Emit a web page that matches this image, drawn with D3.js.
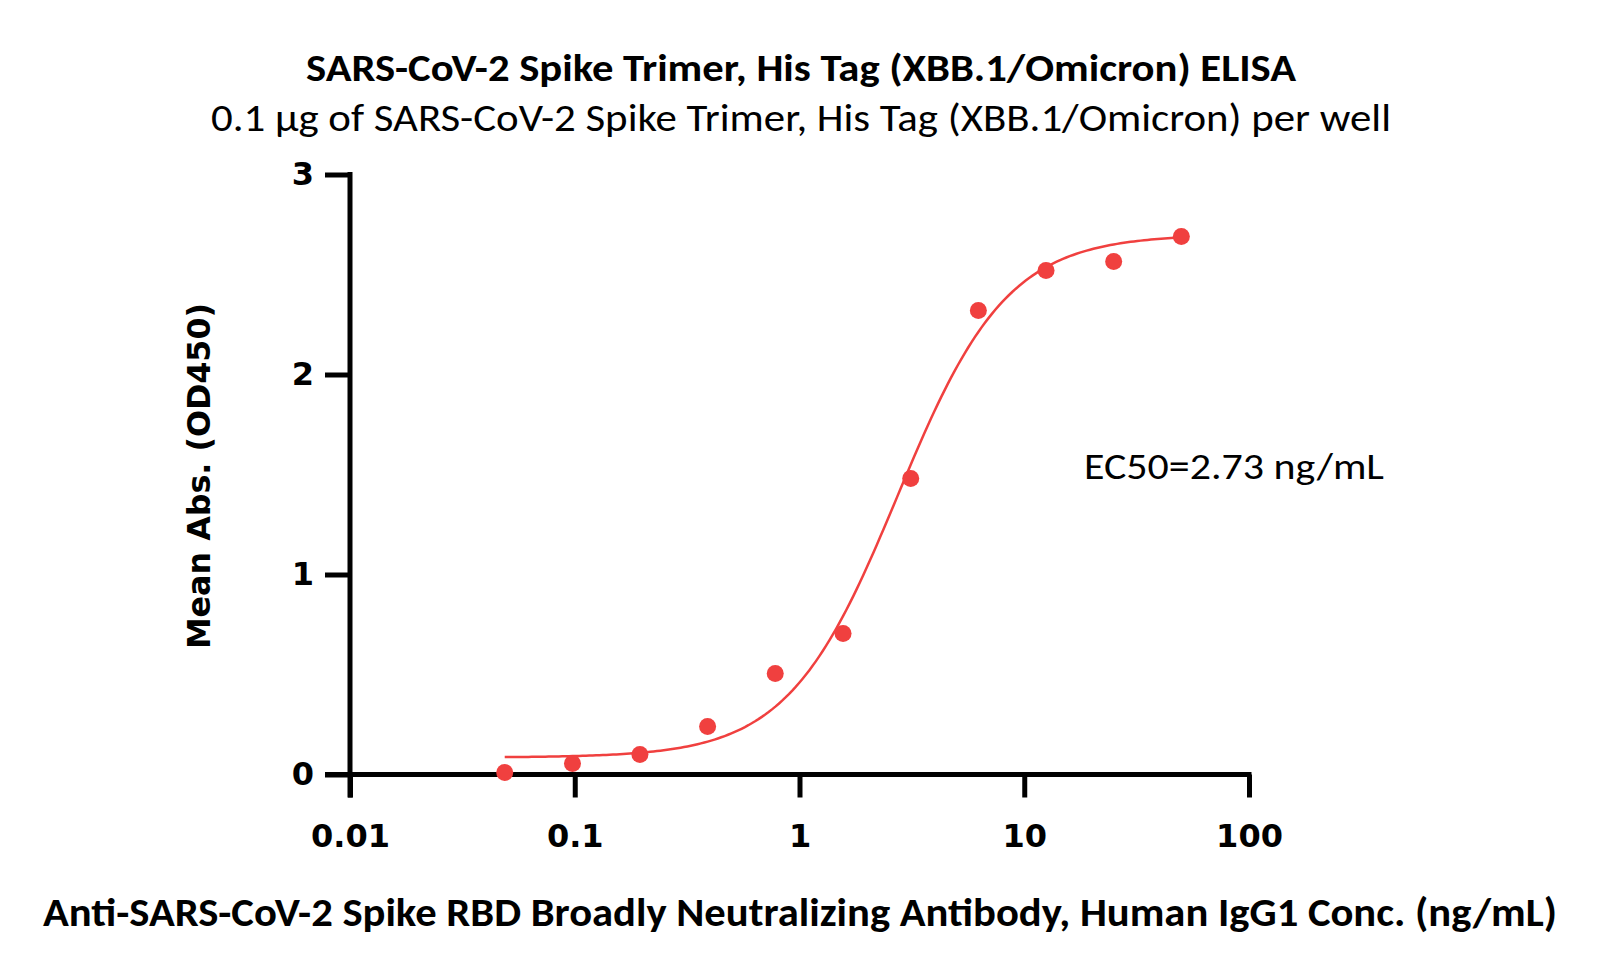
<!DOCTYPE html>
<html>
<head>
<meta charset="utf-8">
<script src="https://cdn.jsdelivr.net/npm/d3@7"></script>
<style>
  body { margin: 0; background: #fff; }
  svg { display: block; }
</style>
</head>
<body>
<div id="chart"></div>
<script>
// antibody concentration (ng/mL) and mean OD450
var conc = [0.0488, 0.0977, 0.195, 0.39, 0.78, 1.5625, 3.125, 6.25, 12.5, 25, 50];
var od = [0.01, 0.055, 0.10, 0.24, 0.505, 0.705, 1.48, 2.32, 2.52, 2.565, 2.69];

// 4PL fit shown in the chart
var fitBottom = 0.085,
  fitTop = 2.70,
  fitEC50 = 2.73,
  fitHill = 1.78;

var xTicks = [0.01, 0.1, 1, 10, 100];
var xTickLabels = ["0.01", "0.1", "1", "10", "100"];
var yTicks = [0, 1, 2, 3];

var titleText = "SARS-CoV-2 Spike Trimer, His Tag (XBB.1/Omicron) ELISA";
var subtitleText = "0.1 \u00b5g of SARS-CoV-2 Spike Trimer, His Tag (XBB.1/Omicron) per well";
var xLabelText = "Anti-SARS-CoV-2 Spike RBD Broadly Neutralizing Antibody, Human IgG1 Conc. (ng/mL)";
var yLabelText = "Mean Abs. (OD450)";
var ec50Text = "EC50=2.73 ng/mL";

var width = 1602,
  height = 979;

var red = "#f0403f";
var calibri = "Calibri, 'Liberation Sans Narrow', 'Open Sans', sans-serif";
var verdana = "Verdana, 'DejaVu Sans', sans-serif";

var svg = d3.select("#chart").append("svg")
  .attr("width", width)
  .attr("height", height);

var x = d3.scaleLog().domain([0.01, 100]).range([350, 1249]);
var y = d3.scaleLinear().domain([0, 3]).range([774.5, 174.5]);

// axes
var xAxis = d3.axisBottom(x)
  .tickValues(xTicks)
  .tickFormat(function(d, i) { return xTickLabels[i]; })
  .tickSize(23)
  .tickSizeOuter(0)
  .tickPadding(27);

var yAxis = d3.axisLeft(y)
  .tickValues(yTicks)
  .tickFormat(d3.format("d"))
  .tickSize(25)
  .tickSizeOuter(0)
  .tickPadding(11);

var gx = svg.append("g")
  .attr("transform", "translate(0," + y(0) + ")")
  .call(xAxis);

var gy = svg.append("g")
  .attr("transform", "translate(" + x(0.01) + ",0)")
  .call(yAxis);

[gx, gy].forEach(function(g) {
  g.select(".domain").remove();
  g.selectAll(".tick line").attr("stroke", "#000").attr("stroke-width", 5);
  g.selectAll(".tick text")
    .attr("fill", "#000")
    .style("font-family", verdana)
    .style("font-weight", "bold")
    .style("font-size", "32px");
});

// axis lines
svg.append("line")
  .attr("x1", x(0.01) - 25).attr("x2", x(100) + 2.5)
  .attr("y1", y(0)).attr("y2", y(0))
  .attr("stroke", "#000").attr("stroke-width", 5);
svg.append("line")
  .attr("x1", x(0.01)).attr("x2", x(0.01))
  .attr("y1", y(3) - 2.5).attr("y2", y(0) + 23)
  .attr("stroke", "#000").attr("stroke-width", 5);

// fitted curve
var curveX = d3.range(0, 201).map(function(i) {
  var lo = Math.log10(conc[0]), hi = Math.log10(conc[conc.length - 1]);
  return Math.pow(10, lo + (hi - lo) * i / 200);
});
var fourPL = function(c) {
  return fitBottom + (fitTop - fitBottom) / (1 + Math.pow(fitEC50 / c, fitHill));
};

svg.append("path")
  .datum(curveX)
  .attr("fill", "none")
  .attr("stroke", red)
  .attr("stroke-width", 2.5)
  .attr("d", d3.line()
    .x(function(d) { return x(d); })
    .y(function(d) { return y(fourPL(d)); }));

// points
svg.selectAll("circle.pt")
  .data(conc)
  .enter()
  .append("circle")
  .attr("class", "pt")
  .attr("cx", function(d) { return x(d); })
  .attr("cy", function(d, i) { return y(od[i]); })
  .attr("r", 8.5)
  .attr("fill", red);

// texts
svg.append("text")
  .attr("x", 801).attr("y", 81)
  .attr("text-anchor", "middle")
  .attr("textLength", 990)
  .attr("lengthAdjust", "spacingAndGlyphs")
  .style("font-family", calibri)
  .style("font-weight", "bold")
  .style("font-size", "39px")
  .text(titleText);

svg.append("text")
  .attr("x", 801).attr("y", 131)
  .attr("text-anchor", "middle")
  .attr("textLength", 1180)
  .attr("lengthAdjust", "spacingAndGlyphs")
  .style("font-family", calibri)
  .style("font-size", "38px")
  .text(subtitleText);

svg.append("text")
  .attr("x", 800).attr("y", 926)
  .attr("text-anchor", "middle")
  .attr("textLength", 1514)
  .attr("lengthAdjust", "spacingAndGlyphs")
  .style("font-family", calibri)
  .style("font-weight", "bold")
  .style("font-size", "40px")
  .text(xLabelText);

svg.append("text")
  .attr("transform", "translate(210,476) rotate(-90)")
  .attr("text-anchor", "middle")
  .attr("textLength", 346)
  .attr("lengthAdjust", "spacingAndGlyphs")
  .style("font-family", verdana)
  .style("font-weight", "bold")
  .style("font-size", "32px")
  .text(yLabelText);

svg.append("text")
  .attr("x", 1084).attr("y", 479)
  .attr("textLength", 300)
  .attr("lengthAdjust", "spacingAndGlyphs")
  .style("font-family", calibri)
  .style("font-size", "36px")
  .text(ec50Text);
</script>
</body>
</html>
